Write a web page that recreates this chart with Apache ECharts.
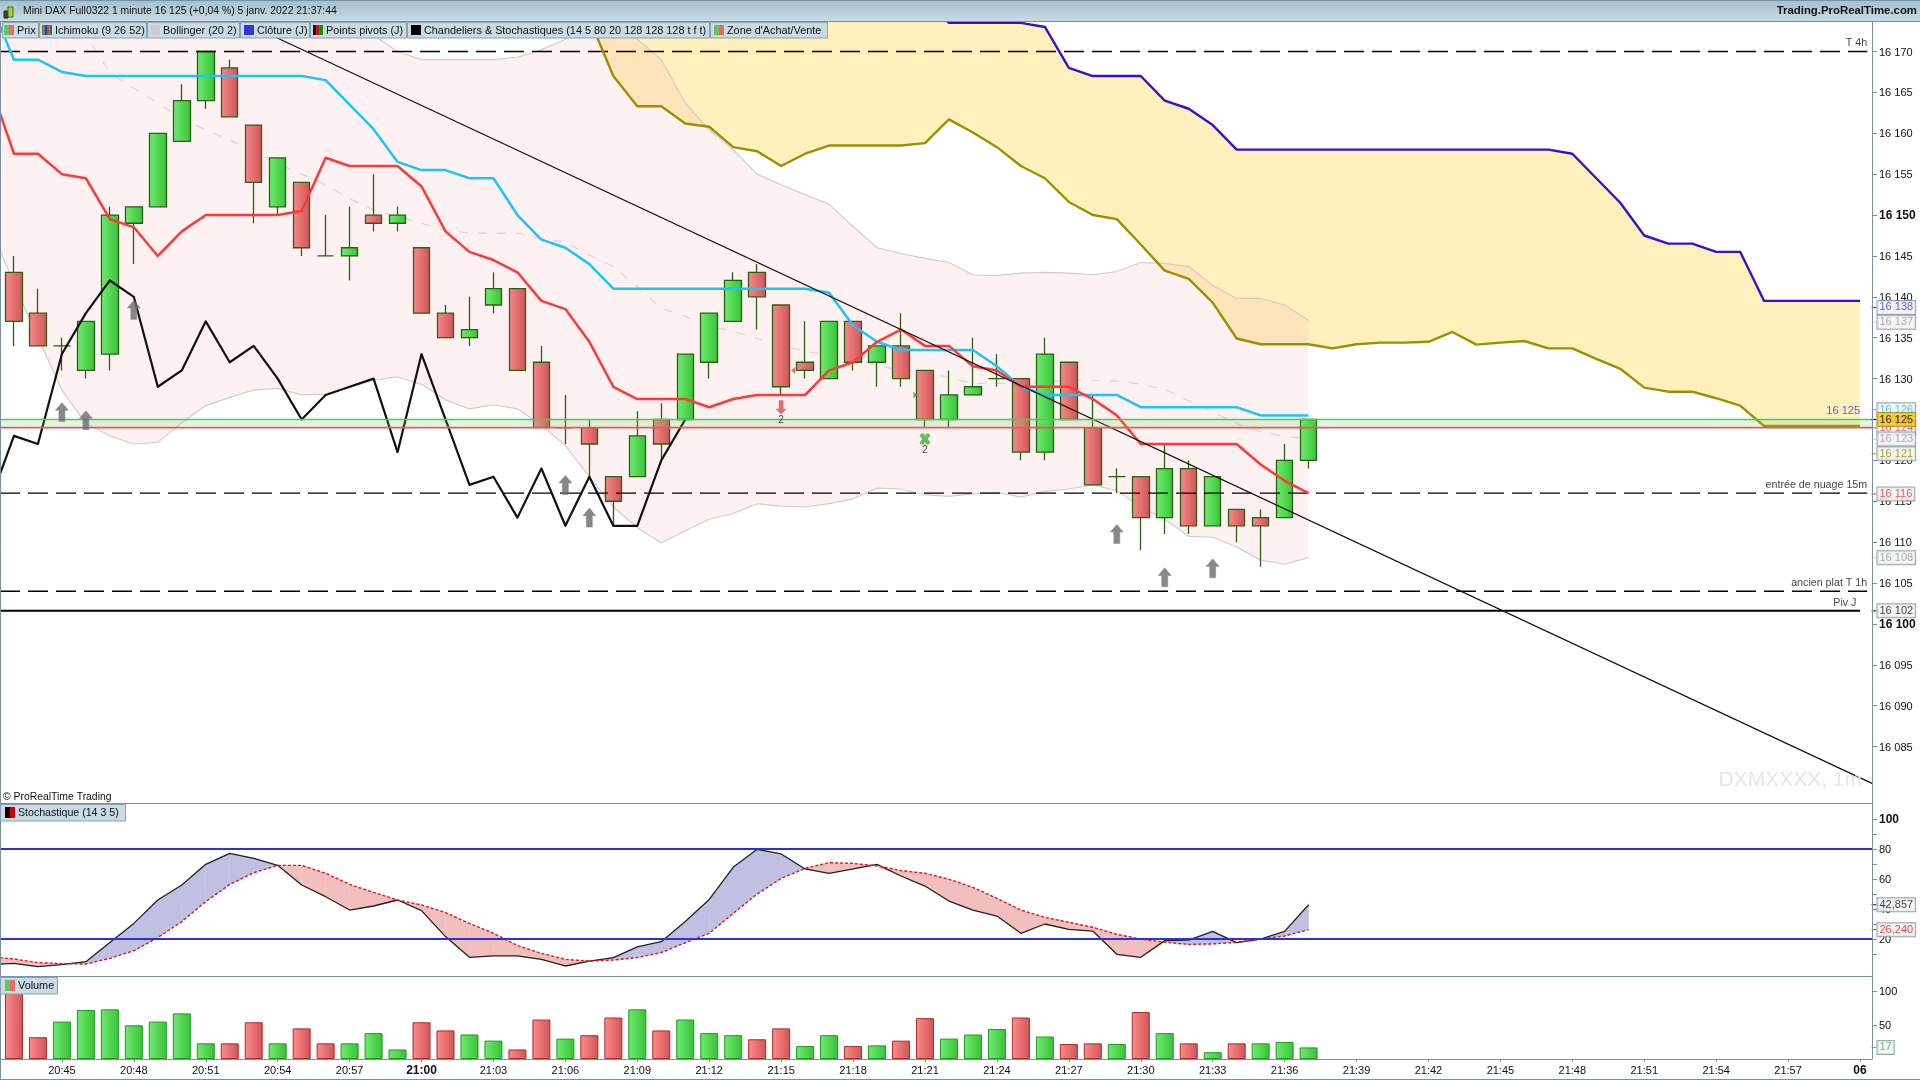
<!DOCTYPE html>
<html><head><meta charset="utf-8">
<style>html,body{margin:0;padding:0;background:#fff}#c{width:1920px;height:1080px}</style>
<script src="https://cdn.jsdelivr.net/npm/echarts@6/dist/echarts.min.js"></script>
</head><body><div id="c"></div>
<script>
// ---------- categories (one hidden bar before the first visible one, so lines run off the left edge)
const times = ["20:42","20:43","20:44","20:45","20:46","20:47","20:48","20:49","20:50","20:51","20:52","20:53","20:54","20:55","20:56","20:57","20:58","20:59","21:00","21:01","21:02","21:03","21:04","21:05","21:06","21:07","21:08","21:09","21:10","21:11","21:12","21:13","21:14","21:15","21:16","21:17","21:18","21:19","21:20","21:21","21:22","21:23","21:24","21:25","21:26","21:27","21:28","21:29","21:30","21:31","21:32","21:33","21:34","21:35","21:36","21:37","21:38","21:39","21:40","21:41","21:42","21:43","21:44","21:45","21:46","21:47","21:48","21:49","21:50","21:51","21:52","21:53","21:54","21:55","21:56","21:57","21:58","21:59","06"];
// ---------- candles, from 20:43
const opens  = [16143,16138,16134,16131,16133,16149,16151,16159,16164,16168,16161,16151,16154,16145,16145,16150,16149,16146,16138,16135,16139,16141,16132,16124,16124,16118,16118,16125,16125,16132,16137,16143,16139,16132,16130,16137,16132,16134,16131,16125,16128,16130,16130,16121,16132,16124,16118,16118,16113,16119,16112,16114,16113,16113,16120];
const closes = [16137,16134,16134,16137,16150,16151,16160,16164,16170,16162,16154,16157,16146,16145,16146,16149,16150,16138,16135,16136,16141,16131,16124,16124,16122,16115,16123,16122,16133,16138,16142,16140,16129,16131,16137,16132,16134,16130,16125,16128,16129,16130,16121,16133,16125,16117,16118,16113,16119,16112,16118,16112,16112,16120,16125];
const lows   = [16134,16134,16131,16130,16131,16144,16151,16159,16163,16162,16149,16150,16145,16145,16142,16148,16148,16138,16135,16134,16138,16131,16124,16122,16118,16112,16118,16120,16125,16130,16137,16136,16128,16130,16130,16131,16129,16129,16124,16124,16128,16129,16120,16120,16125,16117,16116,16109,16111,16111,16112,16110,16107,16113,16119];
const highs  = [16145,16141,16135,16137,16151,16151,16160,16166,16170,16169,16161,16157,16154,16150,16151,16155,16151,16146,16139,16140,16143,16141,16134,16128,16125,16118,16126,16127,16133,16138,16143,16144,16139,16137,16137,16137,16134,16138,16131,16131,16135,16133,16130,16135,16132,16128,16119,16118,16122,16120,16118,16114,16114,16122,16125];
// ---------- overlays, from 20:42
const tenkan = [16166,16157.5,16157.5,16155,16154.5,16149.5,16148.5,16145,16148,16150,16150,16150,16150,16150.5,16157,16156,16156,16156,16153.5,16148,16145.5,16144.5,16143,16139.5,16138.5,16134.5,16129,16127.5,16127.5,16127.5,16126.5,16127.5,16128,16128,16128,16131,16132,16134.5,16136,16134,16134,16131.5,16131,16129,16129,16129,16127.5,16125.5,16122,16122,16122,16122,16122,16119.5,16117.5,16116];
const kijun = [16176,16169,16169,16167.5,16167,16167,16167,16167,16167,16167,16167,16167,16167,16167,16166.5,16163.5,16160.5,16156.5,16155.5,16155.5,16154.5,16154.5,16150,16147,16146,16144,16141,16141,16141,16141,16141,16141,16141,16141,16141,16140.5,16136.5,16134.5,16133.5,16133.5,16133.5,16133.5,16131.5,16129,16128,16128,16128,16128,16126.5,16126.5,16126.5,16126.5,16126.5,16125.5,16125.5,16125.5];
const chikou = [16115,16123,16122,16133,16138,16142,16140,16129,16131,16137,16132,16134,16130,16125,16128,16129,16130,16121,16133,16125,16117,16118,16113,16119,16112,16118,16112,16112,16120,16125];
const bollUpper = [16186,16186,16186,16186,16186,16186,16186,16185,16184,16182,16181,16180,16178,16177,16176,16174.5,16172,16170,16169,16169,16169,16169,16169.3,16170.2,16171.5,16173,16173.5,16171.5,16169,16163.7,16160.4,16158,16155,16153.7,16152.5,16151.3,16148.6,16146,16145.3,16144.7,16144.2,16142.7,16142.6,16142.9,16143,16142.9,16142.7,16143.1,16144.2,16144.1,16143.7,16141.4,16139.8,16139.8,16139,16137.1];
const bollMid = [16176,16175,16174,16173,16172,16167.4,16165.5,16163.7,16161.8,16160.4,16159.2,16157.8,16156.3,16155,16153.7,16152,16150.6,16149.8,16149,16148.1,16147.8,16147.8,16147.8,16147.1,16146.7,16145.1,16143.7,16141.2,16138.6,16137.6,16136.4,16135.8,16134.9,16134.1,16133.3,16132.9,16132.4,16131.6,16131,16130.8,16130.1,16129.4,16129.4,16129.4,16129.6,16129.8,16129.8,16129.7,16129.3,16128.7,16127.3,16125.9,16124.5,16123.5,16122.9,16122.7];
const bollLower = [16148.6,16141.6,16135,16128.6,16124.5,16123,16122,16122.2,16124.6,16126.7,16127.7,16128.6,16128.8,16128,16128.1,16128.9,16129.8,16130.2,16129.3,16127.4,16126.3,16126.8,16126.3,16124.3,16121.8,16118,16114.3,16111.8,16109.9,16111.4,16112.8,16113.5,16114.7,16114.4,16114.3,16114.7,16115.3,16116.6,16116.5,16115.8,16115.6,16115.9,16116.1,16115.5,16116.2,16116.5,16117,16116.3,16114.3,16112.8,16110.7,16110.6,16109.4,16107.8,16107.3,16108.1];
// ---------- Ichimoku cloud, from 21:07
const cloudLead = 25;
const spanA = [16174,16167,16163.3,16163.3,16161.2,16160.8,16158.3,16157.8,16156,16157.5,16158.5,16158.5,16158.5,16158.5,16158.8,16161.7,16160.1,16158.3,16156,16154.5,16151.6,16150,16149.5,16146.4,16143.2,16142.2,16139.3,16134.9,16134.2,16134.2,16134.2,16133.7,16134.2,16134.4,16134.4,16134.5,16135.7,16134.15,16134.4,16134.6,16133.7,16133.7,16132.4,16131.2,16128.9,16128.4,16128.4,16127.6,16126.7,16124.2,16124.2,16124.2,16124.2,16124.2];
const spanB = [16176,16176,16176,16176,16176,16176,16176,16176,16176,16176,16176,16176,16176,16176,16176,16173.5,16173.5,16173.5,16173.5,16173,16168,16167,16167,16167,16164,16163,16161,16158,16158,16158,16158,16158,16158,16158,16158,16158,16158,16158,16158,16158,16158,16157.5,16154.5,16151.5,16147.5,16146.5,16146.5,16145.5,16145.5,16139.5,16139.5,16139.5,16139.5,16139.5];
// ---------- levels
const levels = [{name:"T 4h",value:16170},{name:"entrée de nuage 15m",value:16116},{name:"ancien plat T 1h",value:16104}];
const pivot = {name:"Piv J",value:16101.6};
const zoneHigh = 16125, zoneLow = 16124;
const trendline = [[10,16173],[77.5,16080.5]];
const arrowsUp = [[2,16125.9],[3,16124.9],[5,16138.4],[23,16117],[24,16113],[46,16111],[48,16105.7],[50,16106.8]];
const arrowDown = [[32,16126.5]];
const crossMark = [[38,16122.6]];
const triLeft = [[32.5,16131]], triRight = [[37.6,16128]];
const priceTicks = [16085,16090,16095,16100,16105,16110,16115,16120,16125,16130,16135,16140,16145,16150,16155,16160,16165,16170];
const priceTags = [
 {t:"16 138",v:16138.7,c:"#3232d8",m:"#3a10c8"},{t:"16 137",v:16136.9,c:"#9a9a9a",m:"#c8c8c8"},
 {t:"16 126",v:16126.2,c:"#18c0f4",m:"#18c0f4"},{t:"16 124",v:16124,c:"#ee3030",m:"#ee3030"},
 {t:"16 123",v:16122.6,c:"#9a9a9a",m:"#c8c8c8"},{t:"16 121",v:16120.8,c:"#9a9000",m:"#9a9000"},
 {t:"16 116",v:16115.9,c:"#ee3030",m:"#ee3030"},{t:"16 108",v:16108.1,c:"#9a9a9a",m:"#c8c8c8"},
 {t:"16 102",v:16101.6,c:"#111111",m:"#111111"},{t:"16 125",v:16125,c:"#000000",m:"#000000",bg:"#ffc800"}];
// ---------- stochastic, from 20:42
const stochK = [2.9,3.8,1.6,2.9,4.9,17.6,30.4,46,56,69.8,77.1,73.8,69.1,56,48.2,39.3,42,46,38.9,21.6,7.8,8.7,8.7,6.4,2,5.3,7.6,14.7,18.2,31.6,46.4,67.8,79.8,76.7,66.7,63.8,66.7,69.8,62,55.3,45.3,39.3,35.3,23.8,30,26.4,25.3,9.8,7.8,18.9,19.3,25.1,17.6,20,25.1,42.857];
const stochD = [8.2,6.7,4.2,3.6,3.3,7.1,12.2,20.9,31.6,44.9,56.4,64.2,69.1,69.1,63.8,56.4,51.1,46,42.7,37.6,30.4,23.8,15.6,10.4,6.4,5.3,6,7.6,10.9,17.5,23.8,37.1,50,60.4,67.1,70.9,70.4,68.7,65.6,63.8,59.8,54.4,47.1,39.3,34.4,31.1,27.8,23.1,20,17.8,16.4,16.7,17.8,20,22,26.24];
const stochLevels = [80,20];
const stochLabels = [20,40,60,80,100], stochTicks = [10,20,30,40,50,60,70,80,90,100];
// ---------- volume, from 20:43
const volumes = [105,32,55,72,73,49.5,55,67,23,23,54,23,45,23,23,38,14,54,42,36,27,14,58,30,35,61,73,42,58,38,35,29,45,19,35,19,20,27,60,30,36,44,61,33,22,23,22,69,38,23,10,23,23,25,17];
const volumeDir = "ddUUUUUUUddUddUUUddUUddUddUdUUUddUUdUddUUUdUddUdUdUdUUU";
const volLabels = [50,100];

// ---------- helpers
const font = '"Liberation Sans", Arial, sans-serif';
const pad = (n, a) => new Array(n).fill('-').concat(a);
const grad = (a, b) => ({type:'linear',x:0,y:0,x2:1,y2:0,colorStops:[{offset:0,color:a},{offset:1,color:b}]});
const GREEN = grad('#70ec70','#38c238'), RED = grad('#f88a8a','#cf5555');
const WICK = '#2b5f14';
const candles = opens.map((o,i)=>[o,closes[i],lows[i],highs[i]]);
const labelIdx = (i)=> i>0 && i%3===0;
const bandDiff = bollUpper.map((u,i)=>+(u-bollLower[i]).toFixed(2));
const cloudDiff = spanA.map((a,i)=>+(spanB[i]-a).toFixed(2));
const line = (name,data,color,width,extra) => Object.assign({name,type:'line',data,xAxisIndex:0,yAxisIndex:0,symbol:'none',showSymbol:false,z:4,silent:true,
  lineStyle:{color,width,join:'round'}},extra||{});
const hLine = (name,val,x1,color,width,type,z,dashOffset) => ({name,type:'line',xAxisIndex:3,yAxisIndex:0,data:[[-1.5,val],[x1,val]],symbol:'none',z:z||4,silent:true,lineStyle:{color,width,type,dashOffset:dashOffset||0}});
const tagLabel = {show:true,position:'right',distance:0,offset:[1,0],height:13,lineHeight:13,padding:[0,2,0,2],align:'left',verticalAlign:'middle',borderWidth:1,fontFamily:font,fontSize:11,formatter:p=>p.name};

const series = [
 // cloud
 {type:'line',stack:'cloud',xAxisIndex:0,yAxisIndex:0,symbol:'none',data:pad(cloudLead,spanA),lineStyle:{opacity:0},z:1,silent:true},
 {type:'line',stack:'cloud',xAxisIndex:0,yAxisIndex:0,symbol:'none',data:pad(cloudLead,cloudDiff),lineStyle:{opacity:0},areaStyle:{color:'#fff0bc',opacity:1},z:1,silent:true},
 // Bollinger
 {type:'line',stack:'boll',xAxisIndex:0,yAxisIndex:0,symbol:'none',data:bollLower,lineStyle:{opacity:0},z:1.5,silent:true},
 {type:'line',stack:'boll',xAxisIndex:0,yAxisIndex:0,symbol:'none',data:bandDiff,lineStyle:{opacity:0},areaStyle:{color:'rgba(248,160,160,0.15)',opacity:1},z:1.5,silent:true},
 line('upper',bollUpper,'#d4cccc',1.2,{z:2}),
 line('lower',bollLower,'#d4cccc',1.2,{z:2}),
 line('mid',bollMid,'#dcd4d4',1.2,{z:2,lineStyle:{color:'#dcd4d4',width:1.2,type:[9,10]}}),
 // levels
 ...levels.map(l=>hLine(l.name,l.value,77.3,'#000',1.4,[20,8],4,6)),
 hLine(pivot.name,pivot.value,77,'#000',2,'solid'),
 // candles
 {type:'candlestick',xAxisIndex:0,yAxisIndex:0,data:pad(1,candles),barWidth:17,z:3,silent:true,
  itemStyle:{color:GREEN,color0:RED,borderColor:WICK,borderColor0:WICK,borderColorDoji:WICK,borderWidth:1.3}},
 // ichimoku
 line('spanA',pad(cloudLead,spanA),'#9a9000',2.4),
 line('spanB',pad(cloudLead,spanB),'#3a10c8',2.4),
 line('kijun',kijun,'#1cc4f8',2.5),
 line('tenkan',tenkan,'#ff3838',2.5),
 line('chikou',chikou,'#111',2.2),
 // trendline
 {name:'trend',type:'line',xAxisIndex:3,yAxisIndex:0,data:trendline,symbol:'none',z:4,silent:true,lineStyle:{color:'#111',width:1.2}},
 // zone
 {name:'zone',type:'line',xAxisIndex:3,yAxisIndex:0,data:[],z:5,silent:true,
  markArea:{silent:true,z:5,itemStyle:{color:'rgba(110,215,110,0.20)'},data:[[{xAxis:-1.5,yAxis:zoneHigh},{xAxis:77.5,yAxis:zoneLow}]]}},
 hLine('zoneHigh',zoneHigh,77.5,'#5cc45c',1.5,'solid',6),
 hLine('zoneLow',zoneLow,77.5,'#e85a5a',1.6,'solid',6),
 // markers
 {type:'scatter',xAxisIndex:3,yAxisIndex:0,data:arrowsUp,z:6,silent:true,symbol:'path://M6.5 0L13 8L9.5 8L9.5 20L3.5 20L3.5 8L0 8Z',symbolSize:[13,19],
  itemStyle:{color:'#6a6a6a',borderColor:'#8a8a8a',borderWidth:0.6}},
 {type:'scatter',xAxisIndex:3,yAxisIndex:0,data:arrowDown,z:6,silent:true,symbol:'path://M3.5 0L8.5 0L8.5 11L12 11L6 18L0 11L3.5 11Z',symbolSize:[11,14],
  itemStyle:{color:'#e04848'},label:{show:true,formatter:'2',position:'bottom',distance:1,color:'#111',fontFamily:font,fontSize:10}},
 {type:'scatter',xAxisIndex:3,yAxisIndex:0,data:crossMark,z:6,silent:true,symbol:'path://M2 0L5 0L6 3L7 0L10 0L12 2L9 6L12 10L10 12L7 12L6 9L5 12L2 12L0 10L3 6L0 2Z',symbolSize:[11,11],
  itemStyle:{color:'#38b438'},label:{show:true,formatter:'2',position:'bottom',distance:1,color:'#111',fontFamily:font,fontSize:10}},
 {type:'scatter',xAxisIndex:3,yAxisIndex:0,data:triLeft,z:6,silent:true,symbol:'triangle',symbolRotate:90,symbolSize:[7,4],itemStyle:{color:'#e04848'}},
 {type:'scatter',xAxisIndex:3,yAxisIndex:0,data:triRight,z:6,silent:true,symbol:'triangle',symbolRotate:-90,symbolSize:[7,4],itemStyle:{color:'#2fa82f'}},
 // level captions
 {type:'scatter',xAxisIndex:3,yAxisIndex:0,z:7,silent:true,symbolSize:0,clip:false,
  data:levels.map(l=>({value:[77.3,l.value],name:l.name})).concat([{value:[76.85,pivot.value],name:pivot.name}]),
  label:{show:true,position:'left',distance:0,offset:[0,-8],formatter:p=>p.name,color:'#111',fontFamily:font,fontSize:10.7}},
 {type:'scatter',xAxisIndex:3,yAxisIndex:0,z:7,silent:true,symbolSize:0,clip:false,data:[{value:[77,16125],name:'16 125'}],
  label:{show:true,position:'left',distance:0,offset:[0,-9],formatter:p=>p.name,color:'#3a3ad8',fontFamily:font,fontSize:11}},
 // price tags
 {type:'scatter',xAxisIndex:3,yAxisIndex:0,z:20,silent:true,clip:false,symbol:'rect',symbolSize:[5,1.2],symbolOffset:[2,0],
  data:priceTags.map(t=>({value:[77.5,t.v],name:t.t,itemStyle:{color:t.m},
   label:{color:t.c,backgroundColor:t.bg||'#f2f2f2',borderColor:t.bg?'#9a8a30':'#7f929e'}})),
  label:tagLabel},
 // stochastic
 {type:'custom',xAxisIndex:1,yAxisIndex:1,z:2,silent:true,data:stochK.map((k,i)=>[i,k]),encode:{x:0,y:1},
  renderItem:(p,api)=>{
    const i=p.dataIndex; if(i>=stochK.length-1) return {type:'group',children:[]};
    const k0=stochK[i],k1=stochK[i+1],d0=stochD[i],d1=stochD[i+1];
    const C=(x,y)=>api.coord([x,y]);
    const BL='#bfc0e2',PK='#f2bfbf';
    const poly=(pts,c)=>({type:'polygon',shape:{points:pts},style:{fill:c,stroke:c,lineWidth:0.4}});
    const s0=k0-d0,s1=k1-d1;
    if(s0*s1>=0) return poly([C(i,k0),C(i+1,k1),C(i+1,d1),C(i,d0)],(s0+s1)>=0?BL:PK);
    const t=s0/(s0-s1),xc=i+t,yc=k0+(k1-k0)*t;
    return {type:'group',children:[poly([C(i,k0),C(xc,yc),C(i,d0)],s0>0?BL:PK),poly([C(xc,yc),C(i+1,k1),C(i+1,d1)],s1>0?BL:PK)]};
  }},
 {name:'K',type:'line',xAxisIndex:1,yAxisIndex:1,data:stochK,symbol:'none',z:3,silent:true,lineStyle:{color:'#222',width:1.3}},
 {name:'D',type:'line',xAxisIndex:1,yAxisIndex:1,data:stochD,symbol:'none',z:3,silent:true,lineStyle:{color:'#e01818',width:1.4,type:[3,2]}},
 ...stochLevels.map(v=>({type:'line',xAxisIndex:4,yAxisIndex:1,data:[[-1.5,v],[77.5,v]],symbol:'none',z:4,silent:true,lineStyle:{color:'#3030d8',width:2}})),
 {type:'scatter',xAxisIndex:4,yAxisIndex:1,z:20,silent:true,clip:false,symbol:'rect',symbolSize:[5,1.2],symbolOffset:[2,0],
  data:[{value:[77.5,42.857],name:'42,857',itemStyle:{color:'#111'},label:{color:'#111'}},{value:[77.5,26.24],name:'26,240',itemStyle:{color:'#e01818'},label:{color:'#e01818'}}],
  label:Object.assign({},tagLabel,{backgroundColor:'#f2f2f2',borderColor:'#7f929e'})},
 // volume
 {type:'bar',xAxisIndex:2,yAxisIndex:2,barWidth:18,z:3,silent:true,
  data:pad(1,volumes.map((v,i)=>{const up=volumeDir[i]==='U';return {value:v,itemStyle:{color:up?GREEN:grad('#ff8c8c','#cf5555'),borderColor:up?'#1f9a1f':'#ac2c2c',borderWidth:1}};}))},
 {type:'scatter',xAxisIndex:5,yAxisIndex:2,z:20,silent:true,clip:false,symbol:'rect',symbolSize:[5,1.2],symbolOffset:[2,0],
  data:[{value:[77.5,17],name:'17',itemStyle:{color:'#38c238'}}],
  label:Object.assign({},tagLabel,{color:'#38c238',backgroundColor:'#f2f2f2',borderColor:'#7f929e'})}
];

const FRAME = '#7a909e';
const hiddenCat = (g)=>({type:'category',gridIndex:g,data:times,show:false,boundaryGap:true});
const hiddenVal = (g)=>({type:'value',gridIndex:g,min:-1.5,max:77.5,show:false,splitLine:{show:false}});
const yAxisBase = (g,min,max,labels,ticks,fmt)=>({type:'value',gridIndex:g,position:'right',min,max,scale:true,splitLine:{show:false},
  axisLine:{show:false,onZero:false},
  axisTick:{show:true,length:5,lineStyle:{color:FRAME},customValues:ticks},
  axisLabel:{show:true,margin:7,padding:[2,0,0,0],color:'#111',fontFamily:font,fontSize:11,customValues:labels,formatter:fmt,showMinLabel:true,showMaxLabel:true,
    rich:{b:{fontWeight:'bold',fontSize:12,color:'#111',fontFamily:font}}}});
const spaced = v=>{const s=String(v);return s.slice(0,2)+' '+s.slice(2);};

// ---------- chrome
const G=[];
const rect=(x,y,w,h,fill,stroke)=>G.push({type:'rect',z:100,silent:true,shape:{x,y,width:w,height:h},style:{fill,stroke:stroke||null,lineWidth:stroke?1:0}});
const txt=(x,y,t,o)=>G.push({type:'text',z:101,silent:true,x,y,style:Object.assign({text:t,fill:'#111',font:'10.85px '+font,verticalAlign:'middle'},o||{})});
const hl=(x1,y1,x2,y2,c)=>G.push({type:'line',z:100,silent:true,shape:{x1,y1,x2,y2},style:{stroke:c||FRAME,lineWidth:1}});
rect(0,0,1920,21,{type:'linear',x:0,y:0,x2:0,y2:1,colorStops:[{offset:0,color:'#a3bfce'},{offset:1,color:'#c7dbe5'}]});
hl(0,0.5,1920,0.5,'#7a909e'); hl(0,21.5,1920,21.5,'#7a909e');
// header icon
rect(4,11,4,7,'#444','#222'); rect(8,7,5,10,'#9ed23e','#4a6a10');
txt(23,11,'Mini DAX Full0322 1 minute 16 125 (+0,04 %) 5 janv. 2022 21:37:44',{font:'10.4px '+font});
txt(1917,11,'Trading.ProRealTime.com',{font:'bold 11.4px '+font,align:'right'});
const tabs=[
 [2,38,17,'Prix',['#5ec85e','#e86a6a']],
 [39,146,55,'Ichimoku (9 26 52)',['#9a7a10','#2040c0','#e04040','#109040']],
 [147,239,163,'Bollinger (20 2)',['#cccccc']],
 [240,309,257,'Clôture (J)',['#3434d8']],
 [310,406,326,'Points pivots (J)',['#111111','#e00000','#109010']],
 [407,709,424,'Chandeliers & Stochastiques (14 5 80 20 128 128 128 t f t)',['#000000']],
 [710,827,727,"Zone d'Achat/Vente",['#5ec85e','#e86a6a']]];
tabs.forEach(t=>{
 rect(t[0]+0.5,22.5,t[1]-t[0],15.5,'#c9dbe5','#8aa0ad');
 const n=t[4].length,iw=10,ix=t[2]-13;
 t[4].forEach((c,i)=>rect(ix+i*iw/n,25,iw/n,10,c));
 txt(t[2],30.5,t[3]);
});
// panes
hl(0,803.5,1872,803.5); hl(0,976.5,1872,976.5); hl(0,1059.5,1872,1059.5);
hl(1872.5,21,1872.5,1059.5); hl(0.5,21,0.5,1080); hl(0,1079.5,1920,1079.5);
txt(3,797,'© ProRealTime Trading',{font:'10.4px '+font});
rect(0.5,804.5,125,16.5,'#c9dbe5','#8aa0ad'); rect(5,807,5,11,'#000'); rect(10,807,5,11,'#d00000'); txt(18,813,'Stochastique (14 3 5)',{font:'10.6px '+font});
rect(0.5,977.5,57,16.5,'#c9dbe5','#8aa0ad'); rect(5,980,5,11,'#5ec85e'); rect(10,980,5,11,'#e86a6a'); txt(18,986,'Volume');
txt(1862,780,'DXMXXXX, 1m',{font:'21px '+font,fill:'#e2e6ee',align:'right'});

const L=-22, W=1894;
const gridBase={left:L,width:W,outerBoundsMode:'none',containLabel:false};
const option={
 animation:false,backgroundColor:'#fff',textStyle:{fontFamily:font},
 grid:[Object.assign({top:21,height:782},gridBase),Object.assign({top:803,height:173},gridBase),Object.assign({top:976,height:83},gridBase)],
 xAxis:[hiddenCat(0),hiddenCat(1),
  {type:'category',gridIndex:2,data:times,boundaryGap:true,
   axisLine:{show:false,onZero:false},
   axisTick:{show:true,alignWithLabel:true,length:3,lineStyle:{color:FRAME},interval:labelIdx},
   axisLabel:{show:true,margin:6,color:'#111',fontFamily:font,fontSize:11,interval:labelIdx,hideOverlap:false,
     formatter:v=>(v==='21:00'||v==='06')?'{b|'+v+'}':v,rich:{b:{fontWeight:'bold',fontSize:12,color:'#111',fontFamily:font}}}},
  hiddenVal(0),hiddenVal(1),hiddenVal(2)],
 yAxis:[
  yAxisBase(0,16078.1,16173.73,priceTicks,priceTicks,v=>(v%50===0)?'{b|'+spaced(v)+'}':spaced(v)),
  yAxisBase(1,-4.67,110.67,stochLabels,stochTicks,v=>v===100?'{b|100}':String(v)),
  yAxisBase(2,0,122,volLabels,volLabels,v=>String(v))],
 graphic:{elements:G},
 series
};
const chart=echarts.init(document.getElementById('c'),null,{renderer:'canvas',width:1920,height:1080});
chart.setOption(option);
</script></body></html>
